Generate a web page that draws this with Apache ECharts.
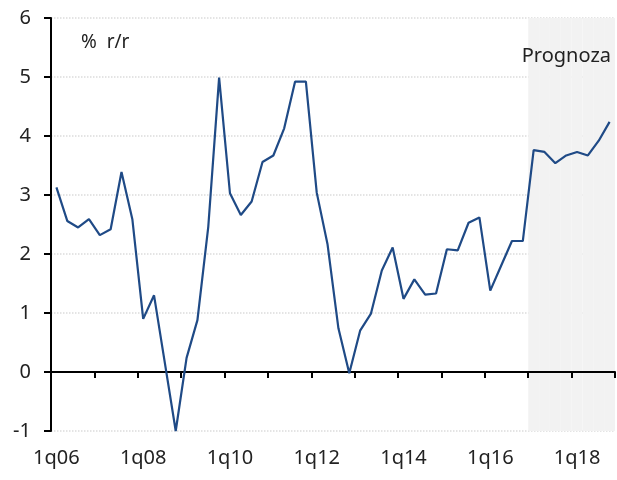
<!DOCTYPE html>
<html>
<head>
<meta charset="utf-8">
<script src="https://cdn.jsdelivr.net/npm/echarts@6.0.0/dist/echarts.min.js"></script>
<style>
  html, body { margin: 0; padding: 0; background: #fff; }
  #main { width: 617px; height: 480px; }
</style>
</head>
<body>
<div id="main"></div>
<script>
// kwartały 1q06 .. 4q18
var years = ['06','07','08','09','10','11','12','13','14','15','16','17','18'];
var quarters = [];
years.forEach(function (y) {
    for (var q = 1; q <= 4; q++) quarters.push(q + 'q' + y);
});

// % r/r
var values = [3.13, 2.56, 2.45, 2.59, 2.32, 2.42, 3.39, 2.59, 0.90, 1.30, 0.15, -1.00,
              0.24, 0.88, 2.46, 4.99, 3.03, 2.66, 2.89, 3.56, 3.67, 4.13, 4.92, 4.92,
              3.04, 2.16, 0.74, -0.02, 0.70, 0.99, 1.72, 2.11, 1.24, 1.57, 1.31, 1.33,
              2.08, 2.06, 2.53, 2.62, 1.38, 1.80, 2.22, 2.22, 3.76, 3.73, 3.54, 3.67,
              3.73, 3.67, 3.92, 4.24];

var forecastStart = '1q17';
var yTicks = { min: -1, max: 6, step: 1 };

var fStart = quarters.indexOf(forecastStart);
var shade = quarters.map(function (q, i) { return i >= fStart ? 1 : null; });

var font = 'Noto Sans';
var myChart = echarts.init(document.getElementById('main'));
var option = {
    animation: false,
    textStyle: { fontFamily: font },
    title: [
        { text: '%  r/r', left: 76, top: 28,
          textStyle: { fontSize: 19, fontWeight: 'normal', color: '#222', fontFamily: font } },
        { text: 'Prognoza', right: 1, top: 41,
          textStyle: { fontSize: 20, fontWeight: 'normal', color: '#222', fontFamily: font } }
    ],
    grid: { left: 51, right: 2, top: 18, bottom: 49 },
    xAxis: [{
        type: 'category',
        data: quarters,
        boundaryGap: true,
        z: 3,
        axisLine: { show: true, onZero: true, lineStyle: { color: '#000', width: 2 } },
        axisTick: { show: true, interval: 3, alignWithLabel: false, length: 6,
                    lineStyle: { color: '#000', width: 2 } },
        axisLabel: { show: false },
        splitLine: { show: false }
    }, {
        type: 'category',
        data: quarters,
        position: 'bottom',
        boundaryGap: true,
        axisLine: { show: false, onZero: false },
        axisTick: { show: false },
        axisLabel: { interval: 7, fontSize: 20, color: '#222', margin: 17, fontFamily: font },
        splitLine: { show: false }
    }],
    yAxis: [{
        type: 'value',
        min: yTicks.min,
        max: yTicks.max,
        interval: yTicks.step,
        axisLine: { show: true, lineStyle: { color: '#000', width: 2 } },
        axisTick: { show: true, length: 7, lineStyle: { color: '#000', width: 2 } },
        axisLabel: { fontSize: 20, color: '#222', margin: 20, fontFamily: font },
        splitLine: { lineStyle: { color: '#dcdcdc', type: 'dotted', width: 1.5 } }
    }, {
        type: 'value',
        min: 0,
        max: 1,
        show: false,
        splitLine: { show: false }
    }],
    series: [{
        name: 'prognoza',
        type: 'bar',
        xAxisIndex: 0,
        yAxisIndex: 1,
        data: shade,
        barCategoryGap: '0%',
        barGap: '0%',
        silent: true,
        z: 1,
        itemStyle: { color: '#f2f2f2' }
    }, {
        name: 'r/r',
        type: 'line',
        xAxisIndex: 0,
        yAxisIndex: 0,
        data: values,
        showSymbol: false,
        z: 4,
        lineStyle: { color: '#1f4a86', width: 2.2 }
    }]
};
myChart.setOption(option);
</script>
</body>
</html>
